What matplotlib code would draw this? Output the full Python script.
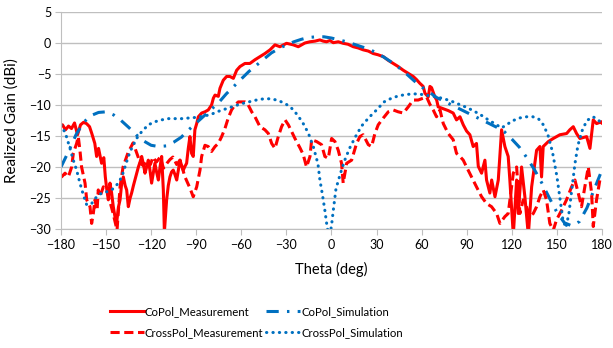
import matplotlib
matplotlib.use("Agg")
import matplotlib.pyplot as plt

plt.rcParams['font.family'] = ['Lato', 'DejaVu Sans']

# CoPol measurement (red solid)
copol_meas_deg = [-180, -179, -177, -175, -173, -171, -169, -167, -165, -163, -161, -159.5, -157.5,
                  -156.3, -155, -153, -151.5, -150.5, -149.5, -148.5, -147.4, -146.3, -145.2, -144.1,
                  -143, -141.8, -140.7, -139.6, -138.5, -137.3, -136.3, -135.2, -134, -133, -131.8,
                  -130.8, -129.6, -128.5, -127.4, -126.3, -125.2, -124.1, -123, -121.9, -120.8, -119.7,
                  -118.6, -117.5, -116.4, -115.2, -114.1, -113, -111.9, -111.2, -110.5, -109.7, -108.6,
                  -107.5, -106.4, -105.3, -104.2, -103, -101.9, -100.8, -99.7, -98.6, -97.5, -96.4,
                  -95.3, -94.2, -93.1, -92, -90.9, -89.7, -88.6, -86.4, -84.2, -82, -79.8, -78.6, -77.5,
                  -75.3, -74.2, -72, -69.8, -67.6, -65.3, -63.1, -60.9, -57.6, -54.3, -50.9, -47.6,
                  -44.3, -40.9, -37.6, -34.3, -29.9, -25.4, -22.1, -17.7, -14.3, -11, -7.7, -5.5, -3.3,
                  -1, 1.2, 4.5, 7.8, 11, 14.5, 17.8, 21.1, 24.5, 27.8, 31, 34.5, 37.8, 41.1, 44.4, 47.8,
                  51.1, 54.4, 56.6, 58.8, 61, 62.2, 64.4, 65.5, 66.6, 68.8, 70, 71, 74.4, 77.7, 81, 83.2,
                  85.5, 87.7, 89.9, 92.1, 94.3, 96.5, 97.7, 99.9, 102.1, 103.2, 105.4, 106.6, 108.8,
                  111, 113.2, 115.4, 117.6, 118.7, 121, 123.2, 124.3, 126.5, 128.7, 131, 133.2, 136.5,
                  138.7, 139.8, 140.9, 144.3, 147.6, 152, 156.5, 158.6, 160.9, 163.1, 165.3, 169.8,
                  172, 174.2, 176.4, 179.7, 180]
copol_meas_db = [-13.4, -13.2, -14.0, -13.4, -13.8, -12.9, -14.8, -13.2, -12.8, -13.0, -13.5, -14.6, -16.2,
                 -18.3, -17.0, -19.4, -18.5, -21.6, -23.7, -25.3, -22.6, -24.2, -26.4, -28.0,
                 -29.1, -26.5, -25.3, -22.6, -21.6, -23.0, -23.7, -26.4, -25.0, -24.2, -23.0,
                 -22.1, -21.0, -20.0, -19.2, -18.3, -19.5, -21.0, -20.0, -18.9, -20.5, -22.6,
                 -21.0, -19.4, -20.8, -22.1, -20.0, -18.3, -23.7, -30.5, -28.0, -25.3, -23.0,
                 -21.6, -20.8, -20.5, -21.2, -22.1, -20.5, -18.9, -19.8, -20.5, -19.9, -19.4,
                 -17.0, -15.1, -17.8, -18.3, -14.0, -13.0, -11.9, -11.3, -11.1, -10.8, -10.0, -8.9, -8.4,
                 -8.6, -7.3, -6.0, -5.4, -5.4, -5.7, -4.4, -3.8, -3.3, -3.3, -2.7, -2.2,
                 -1.7, -1.1, -0.3, -0.6, -0.05, -0.3, -0.6, 0.0, 0.2, 0.3, 0.5, 0.3, 0.2,
                 0.4, 0.05, 0.2, -0.05, -0.2, -0.6, -0.8, -1.1, -1.3, -1.7, -1.9, -2.2, -2.8, -3.3, -3.8, -4.4,
                 -4.9, -5.4, -5.9, -6.5, -7.0, -8.1, -8.7, -7.0, -7.2, -8.7, -9.2, -10.3, -10.6, -10.9, -11.3, -12.4,
                 -11.9, -13.2, -14.2, -14.8, -16.7, -16.2, -19.9, -21.0, -18.9, -22.1, -24.2, -22.1, -24.8,
                 -22.1, -14.0, -16.7, -18.3, -22.1, -31.0, -22.1, -27.5, -20.0, -24.8, -31.0, -23.2, -17.3,
                 -16.7, -21.6, -16.7, -15.9, -15.4, -14.8, -14.6, -14.0, -13.5, -14.6, -15.4, -15.1,
                 -17.0, -12.4, -13.0, -12.7, -12.9]

# CoPol simulation (blue long dash dot)
copol_sim_deg = [-180, -175, -170, -165, -160, -155, -150, -145, -140, -135, -130, -125, -120, -115,
                 -110, -105, -100, -95, -90, -85, -80, -75, -70, -65, -60, -55, -50, -45, -40, -35,
                 -30, -25, -20, -15, -10, -5, 0, 5, 10, 15, 20, 25, 30, 35, 40, 45, 50, 55, 60, 65,
                 70, 75, 80, 85, 90, 95, 100, 105, 110, 115, 120, 125, 130, 135, 140, 145, 150, 155,
                 160, 165, 170, 175, 180]
copol_sim_db = [-20.0, -17.5, -14.8, -12.8, -11.7, -11.2, -11.1, -11.6, -12.5, -13.6, -14.8, -15.8, -16.5,
                -16.7, -16.6, -16.0, -15.2, -14.0, -12.9, -11.8, -10.7, -9.6, -8.2, -7.0, -5.8, -4.6,
                -3.6, -2.6, -1.6, -0.9, -0.3, 0.2, 0.6, 0.9, 1.0, 1.0, 0.8, 0.5, 0.2, -0.2, -0.6, -1.0,
                -1.6, -2.3, -3.1, -4.0, -5.0, -6.1, -7.1, -7.9, -8.8, -9.4, -10.0, -10.6, -11.2, -11.8,
                -12.4, -13.0, -13.6, -14.3, -15.5, -16.8, -18.5, -20.4, -22.6, -25.0, -27.3, -29.0,
                -29.5, -28.8, -26.6, -23.5, -20.5]

# CrossPol measurement (red dashed)
xpol_meas_deg = [-180, -179.6, -177.3, -175.1, -172.9, -171.8, -169.6, -168.5, -167.4, -166.3, -164,
                 -162.9, -160.7, -159.6, -158.5, -157.4, -156, -155.2, -154.1, -151.8, -149.4, -147.5,
                 -145.4, -142.7, -140.7, -138.7, -135.4, -132, -130.7, -128.5, -127.4, -125, -122.8,
                 -120.5, -118.8, -116.5, -114, -111.8, -109.5, -107.5, -105.5, -103, -100.8, -97.5,
                 -94.2, -92, -89.7, -87.5, -86.4, -84.2, -82, -79.8, -77.5, -75.3, -73.1, -70.9, -68.7,
                 -66.5, -64.2, -62, -59.8, -57.6, -55.4, -53.1, -50.9, -47.6, -44.3, -42, -39.8, -37.6,
                 -35.4, -33.2, -30.9, -28.7, -26.5, -24.3, -21, -18.8, -16.6, -14.3, -13.2, -9.9, -6.6,
                 -4.4, -2.1, 0.1, 2.3, 4.5, 6.7, 7.8, 10.1, 13.4, 16.7, 18.9, 21.1, 24.5, 26.7, 28.9,
                 31.1, 34.5, 37.8, 41.1, 44.4, 47.8, 51.1, 54.4, 57.7, 61.1, 63.3, 65.5, 67.7, 69.9,
                 72.2, 74.4, 77.7, 81, 83.2, 85.5, 87.7, 89.9, 93.2, 96.5, 99.9, 103.2, 106.5, 109.9,
                 112.1, 115.4, 117.6, 121, 123.2, 125.4, 127.6, 129.8, 132, 134.3, 136.5, 138.7, 140.9,
                 143.1, 145.3, 147.6, 149.8, 153.1, 156.4, 159.8, 162, 164.2, 166.4, 168.6, 170.9,
                 173.1, 174.2, 176.4, 178.6, 180]
xpol_meas_db = [-21.3, -21.6, -21.0, -21.6, -20.0, -17.8, -16.2, -15.1, -17.3, -20.0, -22.6,
                -25.3, -26.4, -29.1, -27.5, -25.3, -27.0, -23.7, -24.8, -23.2, -23.7, -25.5,
                -27.4, -30.2, -23.2, -20.0, -17.7, -16.1, -17.0, -18.5, -19.4, -19.8, -18.9,
                -19.6, -18.4, -19.2, -18.4, -20.2, -19.4, -18.8, -18.4, -19.6, -18.9, -21.6,
                -23.4, -24.8, -23.2, -20.5, -18.3, -16.5, -16.7, -17.5, -16.7, -16.2, -15.1, -13.8, -12.1,
                -10.8, -10.0, -9.5, -9.5, -9.5, -10.0, -11.1, -11.9, -13.5, -14.0, -14.6, -16.2, -17.0,
                -15.1, -13.5, -12.4, -13.2, -14.3, -15.4, -16.9, -18.0, -20.0, -18.3, -15.6, -15.9, -16.4,
                -18.3, -18.6, -15.4, -15.9, -17.3, -19.4, -22.6, -19.4, -18.9, -16.2, -15.1, -14.8, -16.4,
                -16.7, -14.6, -13.2, -12.1, -11.1, -10.8, -11.1, -11.3, -10.3, -9.2, -9.2, -8.9, -8.7,
                -9.9, -10.8, -11.9, -10.8, -13.0, -14.6, -15.6, -17.8, -18.3, -18.9, -20.0, -21.6,
                -23.2, -24.8, -25.9, -26.4, -27.5, -29.1, -28.0, -27.5, -21.0, -20.0, -27.5, -25.3,
                -26.4, -28.0, -27.5, -26.4, -24.8, -23.7, -25.3, -29.1, -30.2, -28.5, -27.0, -25.3,
                -23.2, -22.1, -24.2, -26.4, -23.2, -20.0, -24.2, -29.6, -25.3, -22.1, -21.6]

# CrossPol simulation (blue round dot)
xpol_sim_deg = [-180, -177, -174, -171.8, -169.6, -167.4, -165, -162.9, -159.6, -156.3, -152.9,
                -149.6, -146.3, -144, -141.9, -139.6, -137.4, -135.2, -133, -129.7, -126.3, -121.9,
                -117.5, -113, -108.6, -104, -99.7, -95, -90, -85, -80, -75, -70, -65, -60, -55, -50,
                -45, -40, -35, -30, -27, -24, -21, -18, -15, -12, -9, -7.7, -6, -4.4, -3, -1.5, 0, 1.2,
                3, 6, 9, 12, 16, 20, 25, 30, 35, 40, 45, 50, 55, 60, 65, 70, 75, 80, 85, 90, 95, 100,
                105, 110, 113, 116, 120, 125, 130, 134, 138, 141, 144, 147, 150, 152, 154, 156, 158,
                160, 162, 164, 167, 170, 174, 177, 180]
xpol_sim_db = [-13.2, -14.6, -17.0, -18.9, -20.5, -22.6, -24.6, -26.1, -25.9, -24.8, -24.2,
               -24.0, -23.7, -23.2, -22.6, -21.6, -20.0, -18.3, -17.0, -15.4, -14.3, -13.2,
               -12.7, -12.4, -12.2, -12.2, -12.2, -12.1, -12.0, -11.8, -11.5, -11.0, -10.6, -10.2,
               -9.8, -9.5, -9.2, -9.0, -9.0, -9.3, -9.9, -10.4, -11.2, -12.2, -13.3, -14.8, -16.8, -19.5,
               -22.1, -24.5, -27.0, -29.5, -31.5, -29.5, -27.0, -23.5, -21.0, -18.8, -17.0, -15.1,
               -13.4, -12.0, -10.8, -9.5, -8.9, -8.5, -8.3, -8.2, -8.3, -8.5, -8.7, -9.0, -9.4, -9.9,
               -10.4, -11.0, -11.7, -12.5, -13.2, -13.7, -13.3, -12.6, -12.1, -11.9, -11.9, -12.3,
               -13.2, -14.8, -17.5, -21.5, -25.0, -28.5, -29.8, -27.5, -23.5, -19.5, -16.5, -14.0,
               -12.5, -11.9, -12.3, -13.0]

x_ticks = [-180, -150, -120, -90, -60, -30, 0, 30, 60, 90, 120, 150, 180]
y_ticks = [-30, -25, -20, -15, -10, -5, 0, 5]

red = '#FF0000'
blue = '#0070C0'
grid = '#BFBFBF'

fig = plt.figure(figsize=(6.13, 3.48), dpi=100)
ax = fig.add_axes([0.0995, 0.342, 0.8825, 0.6235])

l1, = ax.plot(copol_meas_deg, copol_meas_db, color=red, lw=2.2, label='CoPol_Measurement')
l2, = ax.plot(copol_sim_deg, copol_sim_db, color=blue, lw=2.2, linestyle=(0, (4, 2.7, 0.8, 2.7)),
              label='CoPol_Simulation')
l3, = ax.plot(xpol_meas_deg, xpol_meas_db, color=red, lw=2.2, linestyle=(0, (3, 1.5)),
              label='CrossPol_Measurement')
l4, = ax.plot(xpol_sim_deg, xpol_sim_db, color=blue, lw=2.2, linestyle=(0, (0.1, 2)),
              dash_capstyle='round', label='CrossPol_Simulation')

ax.set_xlim(-180, 180)
ax.set_ylim(-30, 5)
ax.set_xticks(x_ticks)
ax.set_yticks(y_ticks)
ax.yaxis.grid(True, color=grid, lw=1)
ax.set_axisbelow(True)
for s in ['top', 'right']:
    ax.spines[s].set_visible(False)
for s in ['left', 'bottom']:
    ax.spines[s].set_color(grid)
ax.tick_params(axis='both', direction='out', length=4, color=grid, labelsize=9, pad=3)
ax.set_xlabel('Theta (deg)', fontsize=10.5, labelpad=8)
ax.set_ylabel('Realized Gain (dBi)', fontsize=11, labelpad=8)

fig.legend([l1, l3, l2, l4], [l1.get_label(), l3.get_label(), l2.get_label(), l4.get_label()],
           loc='center', bbox_to_anchor=(0.418, 0.075), ncol=2, frameon=False, fontsize=8.2,
           handlelength=3.0, handletextpad=0.1, columnspacing=0.2, labelspacing=0.85)

fig.savefig('out.png', dpi=100)
